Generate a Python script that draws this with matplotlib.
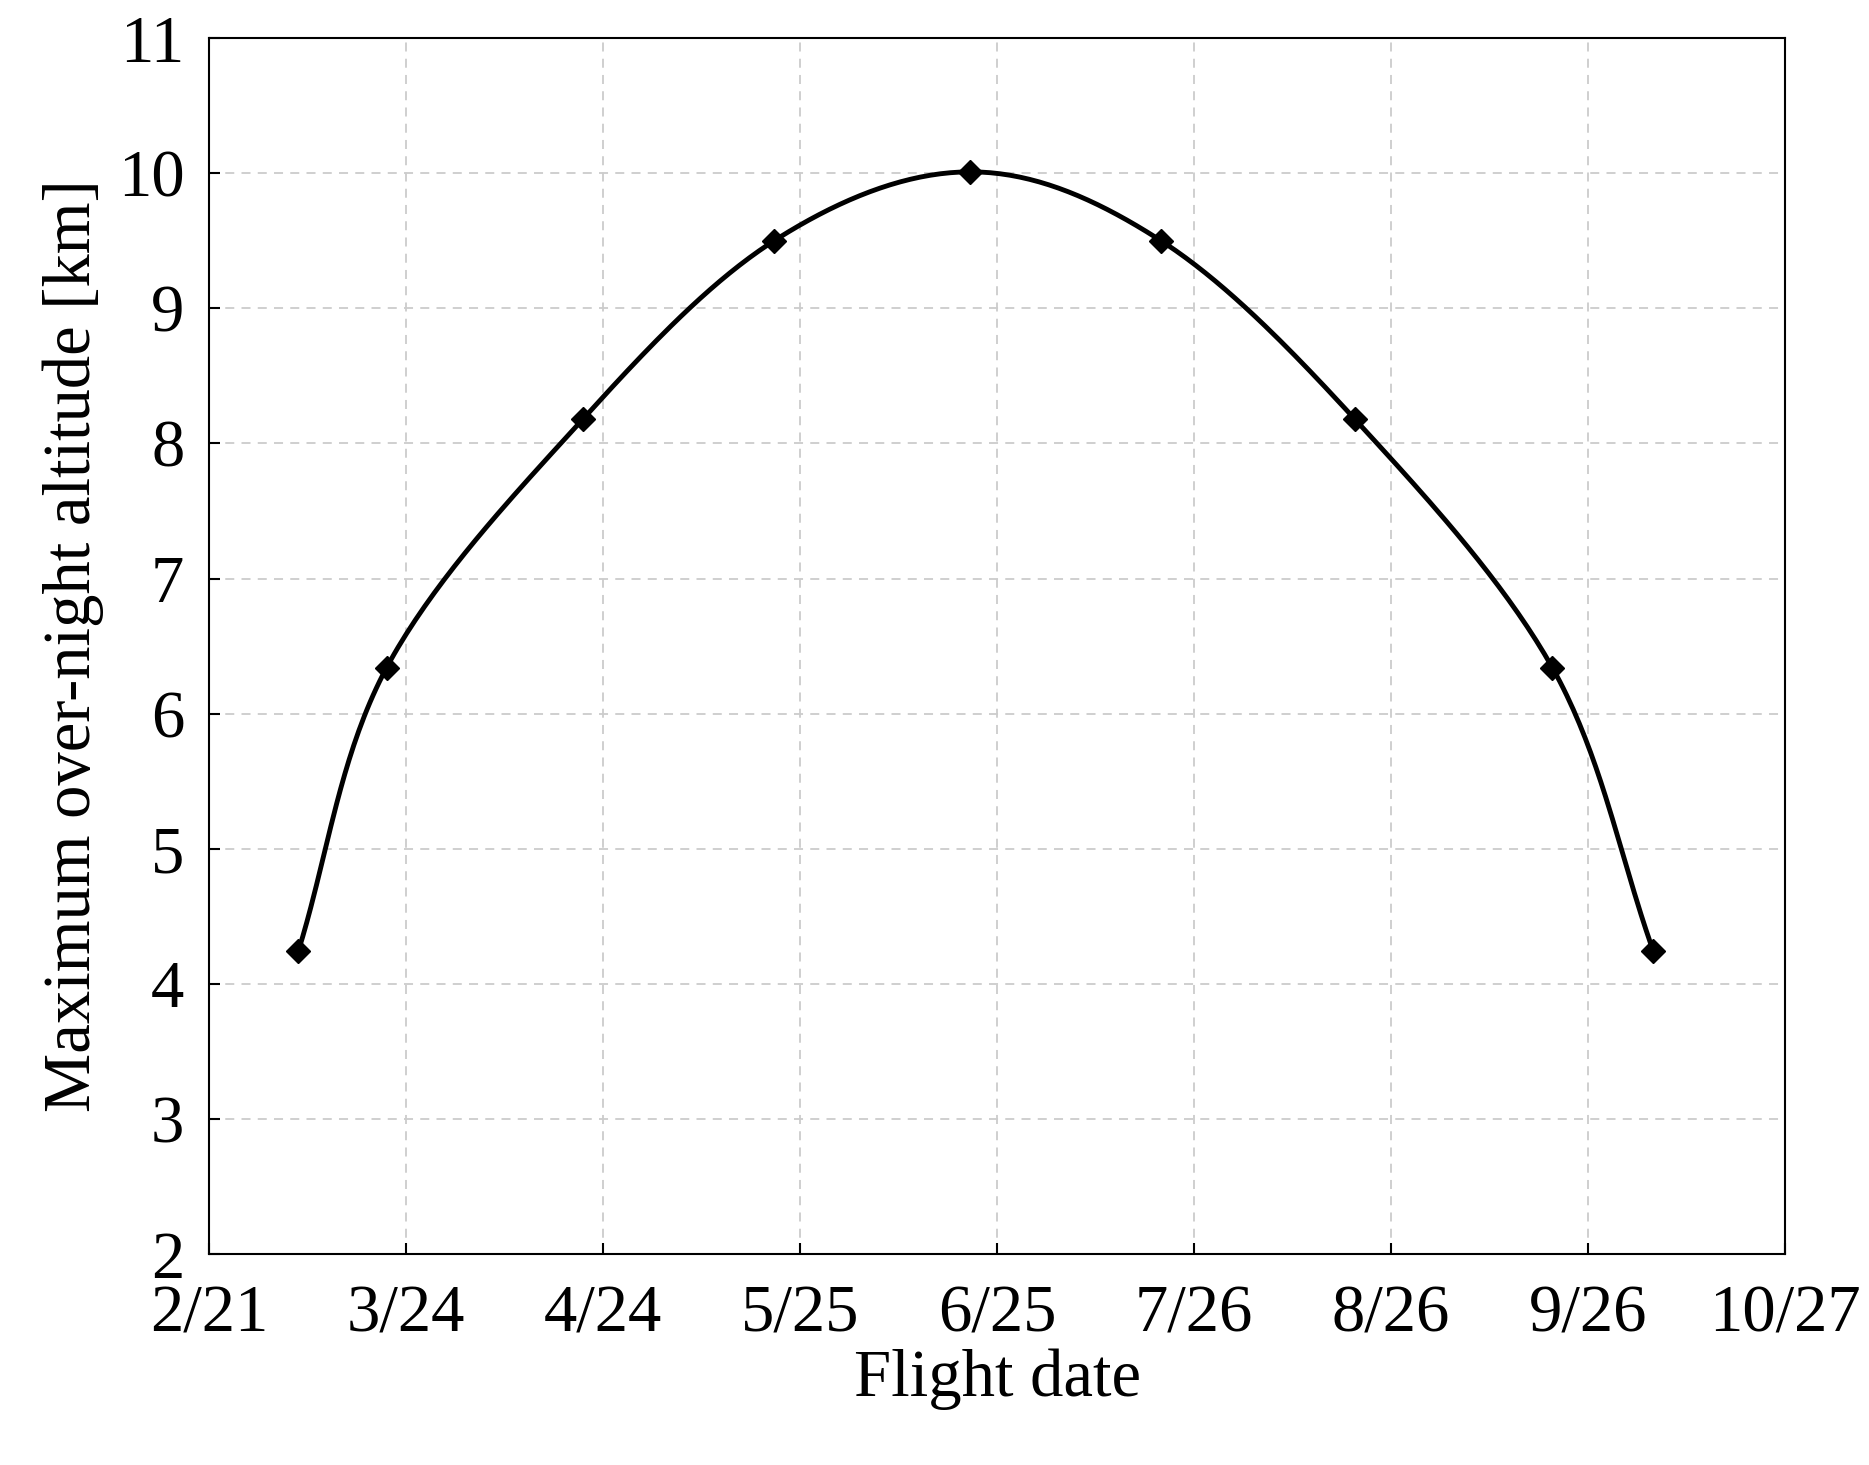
import numpy as np
import matplotlib
matplotlib.use("Agg")
import matplotlib.pyplot as plt

plt.rcParams["font.family"] = ["Liberation Serif", "DejaVu Serif"]

# days since 2/21
tick_days = [0, 31, 62, 93, 124, 155, 186, 217, 248]
tick_labels = ["2/21", "3/24", "4/24", "5/25", "6/25", "7/26", "8/26", "9/26", "10/27"]
flight_day = [14.0, 27.9, 58.8, 88.9, 119.8, 149.8, 180.3, 211.4, 227.3]
max_alt = [4.24, 6.34, 8.18, 9.50, 10.01, 9.50, 8.18, 6.34, 4.24]


def catmull_rom(x, y, n=40):
    x = np.asarray(x); y = np.asarray(y)
    px = np.concatenate([[2 * x[0] - x[1]], x, [2 * x[-1] - x[-2]]])
    py = np.concatenate([[2 * y[0] - y[1]], y, [2 * y[-1] - y[-2]]])
    xs, ys = [], []
    t = np.linspace(0, 1, n)
    for i in range(1, len(px) - 2):
        for arr, out in ((px, xs), (py, ys)):
            p0, p1, p2, p3 = arr[i - 1], arr[i], arr[i + 1], arr[i + 2]
            out.append(0.5 * (2 * p1 + (-p0 + p2) * t + (2 * p0 - 5 * p1 + 4 * p2 - p3) * t**2
                              + (-p0 + 3 * p1 - 3 * p2 + p3) * t**3))
    return np.concatenate(xs), np.concatenate(ys)


fig = plt.figure(figsize=(18.69, 14.65), dpi=100)
ax = fig.add_axes([0.112, 0.144, 0.843, 0.830])
sx, sy = catmull_rom(flight_day, max_alt)
ax.plot(sx, sy, color="black", lw=3.5)
ax.plot(flight_day, max_alt, "D", color="black", ms=12)

ax.set_xlim(0, 248)
ax.set_ylim(2, 11)
ax.set_xticks(tick_days)
ax.set_xticklabels(tick_labels)
ax.set_yticks(range(2, 12))
ax.grid(True, ls=(0, (5, 4)), color="#cccccc", lw=1.3)
ax.tick_params(direction="in", labelsize=48, length=8, width=1.5)
ax.tick_params(axis="x", pad=22)
ax.tick_params(axis="y", pad=18)
for s in ax.spines.values():
    s.set_linewidth(1.5)
ax.set_xlabel("Flight date", fontsize=48, labelpad=2)
ax.set_ylabel("Maximum over-night altitude [km]", fontsize=48, labelpad=10)
fig.savefig("out.png", dpi=100)
